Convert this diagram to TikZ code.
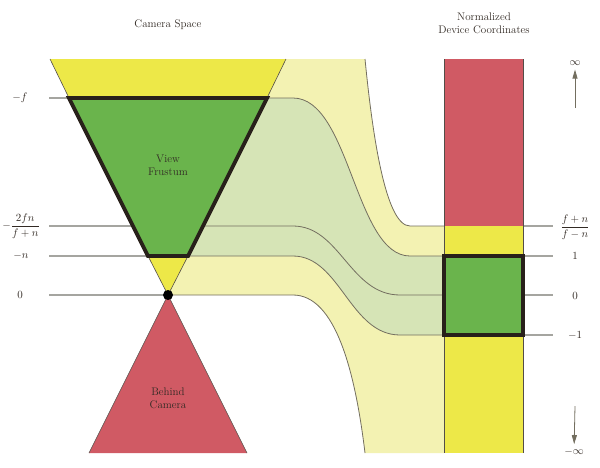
\documentclass[tikz,border=0pt]{standalone}
\usetikzlibrary{arrows.meta}
\definecolor{yellowC}{RGB}{237,232,72}
\definecolor{greenC}{RGB}{106,180,76}
\definecolor{redC}{RGB}{208,90,100}
\definecolor{paleY}{RGB}{243,242,178}
\definecolor{paleG}{RGB}{214,228,182}
\definecolor{outlineC}{RGB}{40,32,26}
\definecolor{guideC}{RGB}{165,165,160}
\definecolor{curveC}{RGB}{115,110,95}
\definecolor{textC}{RGB}{50,42,36}
\begin{document}
\begin{tikzpicture}[x=1pt,y=-1pt,
  font=\fontsize{11}{13}\selectfont,
  every node/.style={text=textC, inner sep=0pt},
  guide/.style={draw=guideC, line width=1.1pt},
  curve/.style={draw=curveC, line width=0.8pt},
  thinedge/.style={draw=outlineC!80, line width=0.6pt},
  thickedge/.style={draw=outlineC, line width=3.8pt, line join=miter},
  infarrow/.style={draw=curveC, line width=0.8pt, -{Triangle[length=9pt,width=5pt]}, shorten >=4pt}
]
\useasboundingbox (0,0) rectangle (600,467);

% guide lines
\foreach \yy in {98,226,256,295} \draw[guide] (49,\yy) -- (168,\yy);
\foreach \yy in {226,256,295,335} \draw[guide] (444,\yy) -- (553,\yy);

% pale yellow band
\fill[paleY] (286,59) -- (365,59) .. controls (372,130) and (385,226) .. (410,226)
  -- (444,226) -- (444,453) -- (365,453) .. controls (355,370) and (335,295) .. (293,295)
  -- (168,295) -- cycle;
% pale green band
\fill[paleG] (267,98) -- (293,98) .. controls (350,98) and (355,256) .. (410,256)
  -- (444,256) -- (444,335) -- (400,335) .. controls (350,335) and (340,256) .. (293,256)
  -- (188,256) -- cycle;

% mapping curves
\draw[curve] (365,59) .. controls (372,130) and (385,226) .. (410,226) -- (444,226);
\draw[curve] (267,98) -- (293,98) .. controls (350,98) and (355,256) .. (410,256) -- (444,256);
\draw[curve] (202,226) -- (293,226) .. controls (340,226) and (350,295) .. (400,295) -- (444,295);
\draw[curve] (188,256) -- (293,256) .. controls (340,256) and (350,335) .. (400,335) -- (444,335);
\draw[curve] (168,295) -- (293,295) .. controls (335,295) and (355,370) .. (365,453);

% camera space shapes
\fill[yellowC] (50,59) -- (286,59) -- (267,98) -- (69,98) -- cycle;
\draw[thinedge] (50,59) -- (69,98) (286,59) -- (267,98);
\fill[yellowC] (148,256) -- (188,256) -- (168,295) -- cycle;
\draw[thinedge] (148,256) -- (168,295) -- (188,256);
\fill[redC] (168,295) -- (247,453) -- (89,453) -- cycle;
\draw[thinedge] (89,453) -- (168,295) -- (247,453);
\filldraw[fill=greenC, thickedge] (69,98) -- (267,98) -- (188,256) -- (148,256) -- cycle;
\fill[black] (168,295) circle (5);

% NDC column
\fill[redC] (444,59) rectangle (523,226);
\fill[yellowC] (444,226) rectangle (523,453);
\draw[thinedge] (444,59) -- (444,453) (523,59) -- (523,453);
\filldraw[fill=greenC, thickedge] (444,256) rectangle (523,335);

% texts
\node (camtitle) at (168,25) {Camera Space};
\node[align=center] (ndctitle) at (484,23) {Normalized\\Device Coordinates};
\node[align=center] (frustum) at (168,165) {View\\Frustum};
\node[align=center] (behind) at (168,398) {Behind\\Camera};

\node (lf) at (20,98) {$-f$};
\node (lfn) at (21,226) {$\displaystyle -\frac{2fn}{f+n}$};
\node (ln) at (21,256) {$-n$};
\node (lz) at (20,295) {$0$};

\node (rfn) at (575,227) {$\displaystyle \frac{f+n}{f-n}$};
\node (rone) at (575,256) {$1$};
\node (rz) at (575,296) {$0$};
\node (rmone) at (575,335) {$-1$};

\node (inf) at (575,63) {$\infty$};
\node (minf) at (574,452) {$-\infty$};
\coordinate (infstart) at (575,108);
\coordinate (minfstart) at (575,406);
\draw[infarrow] (infstart) -- (inf);
\draw[infarrow] (minfstart) -- (minf);
\end{tikzpicture}
\end{document}
